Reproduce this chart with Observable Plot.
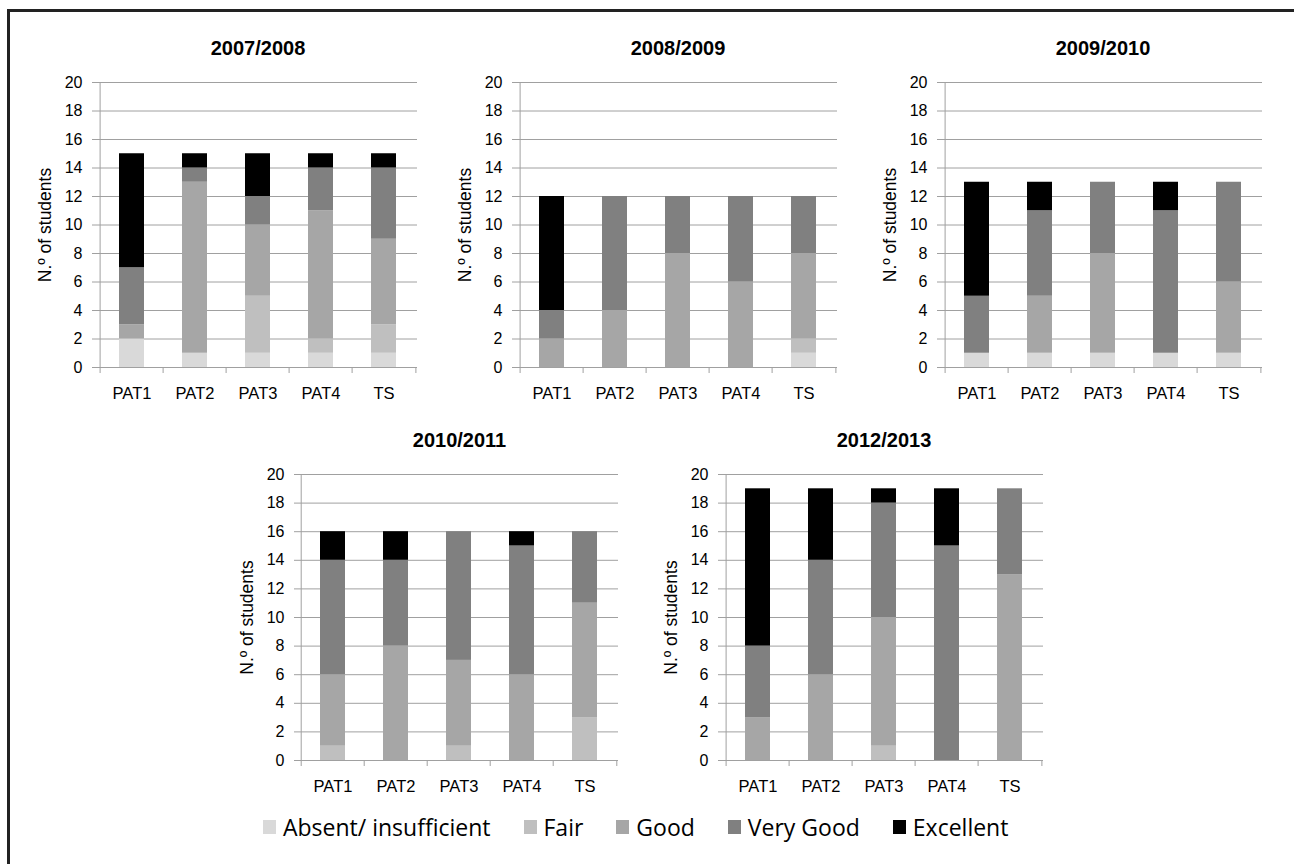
<!DOCTYPE html>
<html>
<head>
<meta charset="utf-8">
<script src="https://cdn.jsdelivr.net/npm/d3@7"></script>
<script src="https://cdn.jsdelivr.net/npm/@observablehq/plot@0.6"></script>
<style>
  html, body { margin: 0; padding: 0; background: #fff; overflow: hidden; }
  #root { position: relative; width: 1294px; height: 864px; overflow: hidden; background: #fff; }
  #frame { position: absolute; left: 7px; top: 9px; width: 1400px; height: 1000px;
           border-left: 3px solid #222; border-top: 3px solid #222; box-sizing: border-box; }
  .panel { position: absolute; }
  .panel svg { overflow: visible; }
  #legend { position: absolute; left: 263px; top: 811px; display: flex; align-items: center;
            font-family: "Open Sans", "Liberation Sans", sans-serif; font-size: 23px; color: #000; }
  #legend .item { display: flex; align-items: center; margin-right: 33px; }
  #legend .sw { width: 13px; height: 14px; margin-right: 7px; }
</style>
</head>
<body>
<div id="root"><div id="frame"></div></div>
<script>
// ---- data ----
const tasks = ["PAT1", "PAT2", "PAT3", "PAT4", "TS"];
const grades = ["Absent/ insufficient", "Fair", "Good", "Very Good", "Excellent"];
const gradeColors = ["#d9d9d9", "#bfbfbf", "#a6a6a6", "#808080", "#000000"];
const yTicks = [0, 2, 4, 6, 8, 10, 12, 14, 16, 18, 20];
const years = ["2007/2008", "2008/2009", "2009/2010", "2010/2011", "2012/2013"];
const yLabel = "N.º of students";

// rows = grades (Absent, Fair, Good, Very Good, Excellent); columns = tasks
const y2007_2008 = [
  [2, 1, 1, 1, 1],
  [0, 0, 4, 1, 2],
  [1, 12, 5, 9, 6],
  [4, 1, 2, 3, 5],
  [8, 1, 3, 1, 1]
];
const y2008_2009 = [
  [0, 0, 0, 0, 1],
  [0, 0, 0, 0, 1],
  [2, 4, 8, 6, 6],
  [2, 8, 4, 6, 4],
  [8, 0, 0, 0, 0]
];
const y2009_2010 = [
  [1, 1, 1, 1, 1],
  [0, 0, 0, 0, 0],
  [0, 4, 7, 0, 5],
  [4, 6, 5, 10, 7],
  [8, 2, 0, 2, 0]
];
const y2010_2011 = [
  [0, 0, 0, 0, 0],
  [1, 0, 1, 0, 3],
  [5, 8, 6, 6, 8],
  [8, 6, 9, 9, 5],
  [2, 2, 0, 1, 0]
];
const y2012_2013 = [
  [0, 0, 0, 0, 0],
  [0, 0, 1, 0, 0],
  [3, 6, 9, 0, 13],
  [5, 8, 8, 15, 6],
  [11, 5, 1, 4, 0]
];
const yearData = [y2007_2008, y2008_2009, y2009_2010, y2010_2011, y2012_2013];

// ---- layout (pixel geometry of each panel's plot area) ----
const layout = [
  {axisX: 98,  right: 417,  y20: 82,  y0: 367},
  {axisX: 518, right: 837,  y20: 82,  y0: 367},
  {axisX: 943, right: 1262, y20: 82,  y0: 367},
  {axisX: 300, right: 618,  y20: 474, y0: 760},
  {axisX: 724, right: 1043, y20: 474, y0: 760}
];

const GRID = "#a0a0a0";
const FONT = "'Liberation Sans', Arial, Helvetica, sans-serif";
const root = document.getElementById("root");

function makePanel(title, rows, geo) {
  const mL = 80, mR = 6, mT = 50, mB = 45;
  const W = geo.right - geo.axisX;
  const H = geo.y0 - geo.y20;
  const step = W / tasks.length;
  const data = grades.flatMap((g, gi) => tasks.map((t, ti) => ({task: t, grade: g, value: rows[gi][ti]})));
  const svg = Plot.plot({
    width: mL + W + mR,
    height: mT + H + mB,
    marginLeft: mL, marginRight: mR, marginTop: mT, marginBottom: mB,
    style: {fontFamily: FONT, fontSize: "16px", background: "transparent", color: "#000", overflow: "visible"},
    x: {domain: tasks, paddingInner: 0.6, paddingOuter: 0.3, axis: null},
    y: {domain: [0, 20], axis: null},
    color: {domain: grades, range: gradeColors},
    marks: [
      Plot.gridY(yTicks, {stroke: GRID, strokeOpacity: 1}),
      Plot.axisY(yTicks, {tickSize: 6, tickPadding: 10, stroke: GRID, fill: "#000", fontSize: 16,
        label: null, tickFormat: d => String(d)}),
      Plot.text([yLabel], {frameAnchor: "left", textAnchor: "middle", lineAnchor: "middle",
        rotate: -90, dx: -53, fontSize: 17.5, fill: "#000"}),
      Plot.ruleX([tasks[0]], {x: d => d, dx: -step / 2, y1: 0, y2: 20, stroke: GRID}),
      Plot.barY(data, {x: "task", y: "value", fill: "grade"}),
      Plot.ruleY([0], {stroke: GRID}),
      Plot.ruleX(tasks, {x: d => d, dx: -step / 2, y1: 0, y2: 0, insetBottom: -6, stroke: GRID}),
      Plot.ruleX([tasks[tasks.length - 1]], {x: d => d, dx: step / 2, y1: 0, y2: 0, insetBottom: -6, stroke: GRID}),
      Plot.axisX({tickSize: 0, tickPadding: 20, fontSize: 16.5, fill: "#000", label: null}),
      Plot.text([title], {frameAnchor: "top", dy: -42, fontSize: 20, fontWeight: "bold", fill: "#000"})
    ]
  });
  const div = document.createElement("div");
  div.className = "panel";
  div.style.left = (geo.axisX - mL) + "px";
  div.style.top = (geo.y20 - mT) + "px";
  div.appendChild(svg);
  root.appendChild(div);
}

years.forEach((yr, i) => makePanel(yr, yearData[i], layout[i]));

// ---- legend ----
const legend = document.createElement("div");
legend.id = "legend";
grades.forEach((g, i) => {
  const item = document.createElement("div");
  item.className = "item";
  const sw = document.createElement("span");
  sw.className = "sw";
  sw.style.background = gradeColors[i];
  const tx = document.createElement("span");
  tx.textContent = g;
  item.appendChild(sw);
  item.appendChild(tx);
  legend.appendChild(item);
});
root.appendChild(legend);
</script>
</body>
</html>
